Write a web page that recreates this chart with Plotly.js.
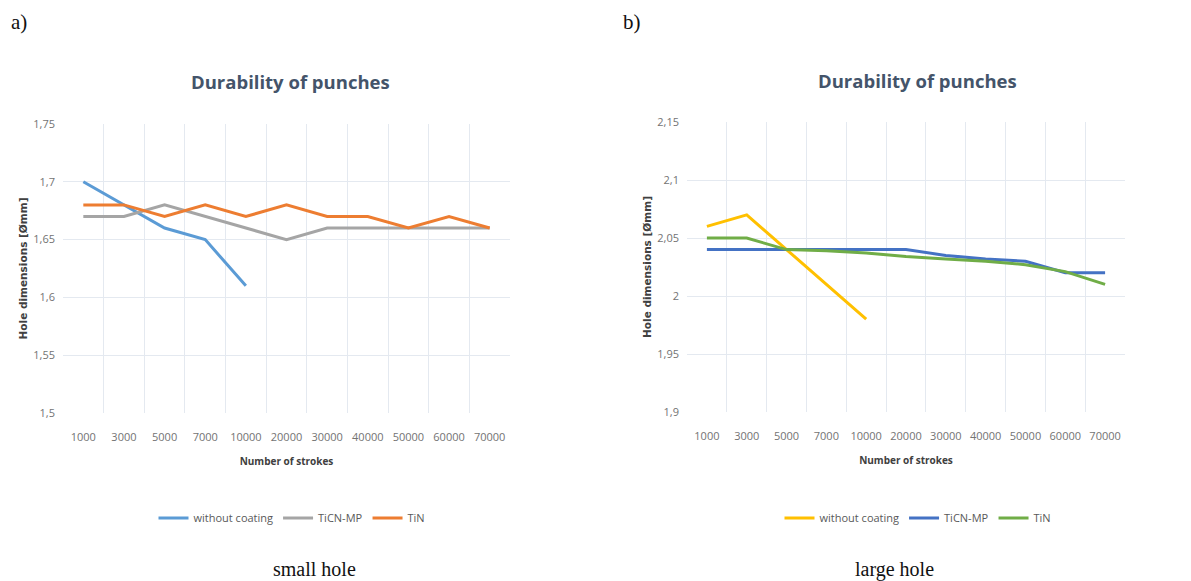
<!DOCTYPE html>
<html>
<head>
<meta charset="utf-8">
<script src="https://cdn.plot.ly/plotly-3.0.1.min.js"></script>
<style>
html,body{margin:0;padding:0;background:#fff;}
#chart{width:1191px;height:581px;}
</style>
</head>
<body>
<div id="chart"></div>
<script>
// Categories (number of strokes)
const strokes = ["1000","3000","5000","7000","10000","20000","30000","40000","50000","60000","70000"];

// a) small hole
const smallWithout = [1.70, 1.68, 1.66, 1.65, 1.61];
const smallTiCN    = [1.67, 1.67, 1.68, 1.67, 1.66, 1.65, 1.66, 1.66, 1.66, 1.66, 1.66];
const smallTiN     = [1.68, 1.68, 1.67, 1.68, 1.67, 1.68, 1.67, 1.67, 1.66, 1.67, 1.66];

// b) large hole
const largeWithout = [2.06, 2.07, 2.04, 2.01, 1.98];
const largeTiCN    = [2.04, 2.04, 2.04, 2.04, 2.04, 2.04, 2.035, 2.032, 2.03, 2.02, 2.02];
const largeTiN     = [2.05, 2.05, 2.04, 2.039, 2.037, 2.034, 2.032, 2.03, 2.027, 2.021, 2.01];

const seriesNames = ["without coating", "TiCN-MP", "TiN"];
const leftColors  = ["#5B9BD5", "#A5A5A5", "#ED7D31"];
const rightColors = ["#FFC000", "#4472C4", "#70AD47"];

const FONT = "Open Sans, Liberation Sans, sans-serif";
const SERIF = "Liberation Serif, DejaVu Serif, serif";
const TICKC = "#737373";
const GRIDC = "#e4e9f0";

function tr(x, y, name, color, xa, ya, leg) {
  return {x: x, y: y, name: name, type: "scatter", mode: "lines",
          line: {color: color, width: 3}, xaxis: xa, yaxis: ya, legend: leg};
}

const data = [
  tr(strokes.slice(0, smallWithout.length), smallWithout, seriesNames[0], leftColors[0], "x", "y", "legend"),
  tr(strokes, smallTiCN, seriesNames[1], leftColors[1], "x", "y", "legend"),
  tr(strokes, smallTiN, seriesNames[2], leftColors[2], "x", "y", "legend"),
  tr(strokes.slice(0, largeWithout.length), largeWithout, seriesNames[0], rightColors[0], "x2", "y2", "legend2"),
  tr(strokes, largeTiCN, seriesNames[1], rightColors[1], "x2", "y2", "legend2"),
  tr(strokes, largeTiN, seriesNames[2], rightColors[2], "x2", "y2", "legend2")
];

function xaxisDef(dom) {
  return {
    domain: dom, type: "category", categoryorder: "array", categoryarray: strokes,
    range: [-0.5, 10.5], tickson: "boundaries", ticks: "", showgrid: true,
    gridcolor: GRIDC, gridwidth: 1, showline: false, zeroline: false,
    ticklabelstandoff: 16,
    tickfont: {family: FONT, size: 11, color: TICKC},
    title: {text: "Number of strokes", font: {family: FONT, size: 10, color: "#404040", weight: "bold"}, standoff: 14},
    fixedrange: true
  };
}
function yaxisDef(dom, r, anchor) {
  return {
    domain: dom, range: r, dtick: 0.05, tick0: r[0], anchor: anchor,
    showgrid: true, gridcolor: GRIDC, gridwidth: 1, zeroline: false, showline: false, ticks: "",
    ticklabelstandoff: 7,
    tickfont: {family: FONT, size: 11, color: TICKC},
    title: {text: "Hole dimensions [Ømm]", font: {family: "DejaVu Sans, sans-serif", size: 10.5, color: "#404040", weight: "bold"}, standoff: 3},
    fixedrange: true
  };
}

const legendStyle = {
  orientation: "h", xanchor: "center", yanchor: "middle", y: 1 - 518/581,
  font: {family: FONT, size: 11, color: "#595959"}, bgcolor: "rgba(0,0,0,0)",
  itemwidth: 30, tracegroupgap: 0
};

const layout = {
  width: 1191, height: 581,
  margin: {l: 0, r: 0, t: 0, b: 0},
  paper_bgcolor: "#ffffff", plot_bgcolor: "#ffffff",
  separators: ",.",
  showlegend: true,
  xaxis: Object.assign(xaxisDef([63/1191, 510/1191]), {anchor: "y"}),
  yaxis: yaxisDef([1 - 413/581, 1 - 124/581], [1.5, 1.75], "x"),
  xaxis2: Object.assign(xaxisDef([687/1191, 1125/1191]), {anchor: "y2"}),
  yaxis2: yaxisDef([1 - 412/581, 1 - 122/581], [1.9, 2.15], "x2"),
  legend: Object.assign({}, legendStyle, {x: 292/1191}),
  legend2: Object.assign({}, legendStyle, {x: 918/1191}),
  annotations: [
    {text: "Durability of punches", xref: "paper", yref: "paper", x: 290/1191, y: 1 - 82/581,
     xanchor: "center", yanchor: "middle", showarrow: false,
     font: {family: FONT, size: 18.5, color: "#44546A", weight: "bold"}},
    {text: "Durability of punches", xref: "paper", yref: "paper", x: 917/1191, y: 1 - 80/581,
     xanchor: "center", yanchor: "middle", showarrow: false,
     font: {family: FONT, size: 18.5, color: "#44546A", weight: "bold"}},
    {text: "a)", xref: "paper", yref: "paper", x: 9/1191, y: 1 - 22/581,
     xanchor: "left", yanchor: "middle", showarrow: false,
     font: {family: SERIF, size: 21, color: "#111111"}},
    {text: "b)", xref: "paper", yref: "paper", x: 621/1191, y: 1 - 22/581,
     xanchor: "left", yanchor: "middle", showarrow: false,
     font: {family: SERIF, size: 21, color: "#111111"}},
    {text: "small hole", xref: "paper", yref: "paper", x: 314/1191, y: 1 - 569/581,
     xanchor: "center", yanchor: "middle", showarrow: false,
     font: {family: SERIF, size: 20, color: "#111111"}},
    {text: "large hole", xref: "paper", yref: "paper", x: 894/1191, y: 1 - 569/581,
     xanchor: "center", yanchor: "middle", showarrow: false,
     font: {family: SERIF, size: 20, color: "#111111"}}
  ]
};

Plotly.newPlot("chart", data, layout, {displayModeBar: false, staticPlot: true});
</script>
</body>
</html>
